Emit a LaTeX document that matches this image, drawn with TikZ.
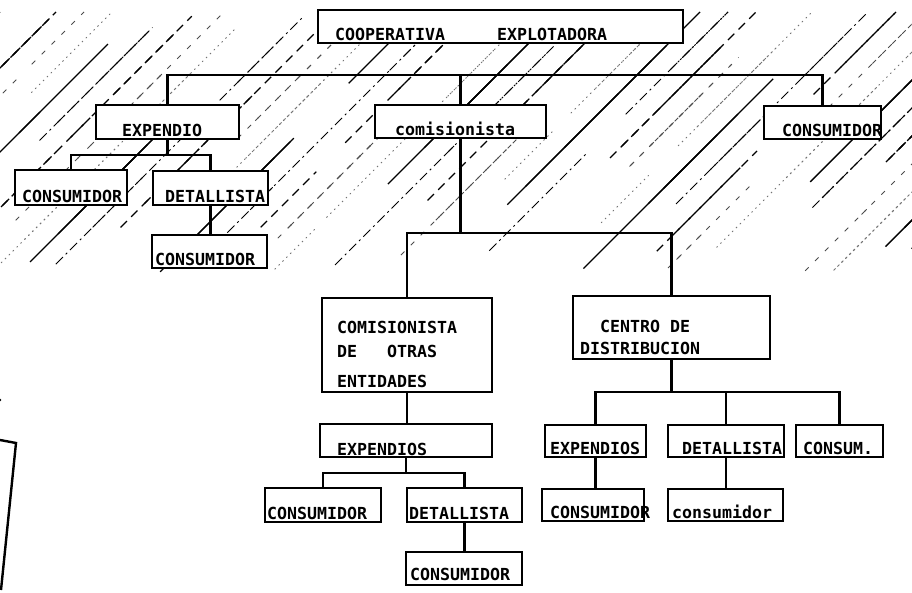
\documentclass[tikz,border=0pt]{standalone}
\usepackage{fontspec}
\setmonofont{DejaVu Sans Mono}
\tikzset{
  caja/.style={draw, line width=2.8pt, fill=white, inner sep=0pt, outer sep=0pt, anchor=north west},
  rotulo/.style={font=\ttfamily\bfseries\fontsize{16.6}{18}\selectfont, inner sep=0pt, anchor=base west},
  enlace/.style={line width=2.4pt},
  hatch0/.style={line width=1.4pt},
  hatch1/.style={line width=1.1pt, dash pattern=on 9pt off 6pt},
  hatch2/.style={line width=0.8pt, black!55, dash pattern=on 1.5pt off 4pt},
  hatch3/.style={line width=1pt, dash pattern=on 10pt off 4pt on 2pt off 4pt},
  hatch4/.style={line width=0.9pt, black!70, dash pattern=on 5pt off 9pt}
}
\begin{document}
\begin{tikzpicture}[x=1pt, y=-1pt]
  \useasboundingbox (0,0) rectangle (912,593);
  % rayado de fondo
  \pgfmathsetseed{11}
  \begin{scope}
    \clip (0,12) rectangle (912,274);
    \foreach \i in {0,...,44} {
      \pgfmathtruncatemacro\k{mod(\i*3,5)}
      \foreach \j in {1,2,3,4} {
        \pgfmathsetmacro\ta{rnd*0.85}
        \pgfmathsetmacro\tb{min(1,\ta+0.15+0.4*rnd)}
        \draw[hatch\k] (\i*28-260+260*\ta,272-260*\ta) -- (\i*28-260+260*\tb,272-260*\tb);
      }
    }
  \end{scope}
  % trozo de caja a la izquierda
  \draw[line width=2.4pt] (0,440) -- (16,443) -- (1,590);
  \fill (0,400) circle (1.3pt);

  % cajas
  \node[caja, minimum width=365pt, minimum height=33pt] (coop) at (318,10) {};
  \node[caja, minimum width=143pt, minimum height=34pt] (expd) at (96,105) {};
  \node[caja, minimum width=171pt, minimum height=33pt] (comi) at (375,105) {};
  \node[caja, minimum width=117pt, minimum height=33pt] (consR) at (764,106) {};
  \node[caja, minimum width=112pt, minimum height=35pt] (consL) at (15,170) {};
  \node[caja, minimum width=115pt, minimum height=34pt] (detA) at (153,171) {};
  \node[caja, minimum width=115pt, minimum height=33pt] (consA) at (152,235) {};
  \node[caja, minimum width=170pt, minimum height=94pt] (otras) at (322,298) {};
  \node[caja, minimum width=197pt, minimum height=63pt] (centro) at (573,296) {};
  \node[caja, minimum width=172pt, minimum height=33pt] (expB) at (320,424) {};
  \node[caja, minimum width=116pt, minimum height=34pt] (consB) at (265,488) {};
  \node[caja, minimum width=115pt, minimum height=34pt] (detB) at (407,488) {};
  \node[caja, minimum width=116pt, minimum height=33pt] (consB2) at (406,552) {};
  \node[caja, minimum width=101pt, minimum height=32pt] (expC) at (545,425) {};
  \node[caja, minimum width=116pt, minimum height=32pt] (detC) at (668,425) {};
  \node[caja, minimum width=87pt, minimum height=32pt] (consC) at (796,425) {};
  \node[caja, minimum width=102pt, minimum height=32pt] (consC1) at (542,489) {};
  \node[caja, minimum width=115pt, minimum height=32pt] (consC2) at (668,489) {};

  % rotulos
  \node[rotulo] (tcoop) at (335,41) {COOPERATIVA\hspace{52pt}EXPLOTADORA};
  \node[rotulo] (texpd) at (122,137) {EXPENDIO};
  \node[rotulo] (tcomi) at (395,136) {comisionista};
  \node[rotulo] (tconsR) at (782,137) {CONSUMIDOR};
  \node[rotulo] (tconsL) at (22,203) {CONSUMIDOR};
  \node[rotulo] (tdetA) at (165,203) {DETALLISTA};
  \node[rotulo] (tconsA) at (155,266) {CONSUMIDOR};
  \node[rotulo] (totras1) at (337,333) {COMISIONISTA};
  \node[rotulo] (totras2) at (337,357) {DE\hspace{30pt}OTRAS};
  \node[rotulo] (totras3) at (337,387) {ENTIDADES};
  \node[rotulo] (tcentro1) at (600,332) {CENTRO DE};
  \node[rotulo] (tcentro2) at (580,354) {DISTRIBUCION};
  \node[rotulo] (texpB) at (337,455) {EXPENDIOS};
  \node[rotulo] (tconsB) at (267,519) {CONSUMIDOR};
  \node[rotulo] (tdetB) at (409,519) {DETALLISTA};
  \node[rotulo] (tconsB2) at (410,580) {CONSUMIDOR};
  \node[rotulo] (texpC) at (550,454) {EXPENDIOS};
  \node[rotulo] (tdetC) at (682,454) {DETALLISTA};
  \node[rotulo] (tconsC) at (803,454) {CONSUM.};
  \node[rotulo] (tconsC1) at (550,518) {CONSUMIDOR};
  \node[rotulo] (tconsC2) at (672,518) {consumidor};

  % lineas de union
  \coordinate (b1) at (0,75);
  \coordinate (b2) at (0,155);
  \coordinate (b3) at (0,233);
  \coordinate (b4) at (0,473);
  \coordinate (b5) at (0,392);
  \draw[enlace] (expd.north) -- (expd.north |- b1) -- (consR.north |- b1) -- (consR.north);
  \draw[enlace] (comi.north) -- (comi.north |- b1);
  \draw[enlace] (expd.south) -- (expd.south |- b2);
  \draw[enlace] (consL.north) -- (consL.north |- b2) -- (detA.north |- b2) -- (detA.north);
  \draw[enlace] (detA.south) -- (detA.south |- consA.north);
  \draw[enlace] (comi.south) -- (comi.south |- b3);
  \draw[enlace] (otras.north) -- (otras.north |- b3) -- (centro.north |- b3) -- (centro.north);
  \draw[enlace] (otras.south) -- (otras.south |- expB.north);
  \draw[enlace] (expB.south) -- (expB.south |- b4);
  \draw[enlace] (consB.north) -- (consB.north |- b4) -- (detB.north |- b4) -- (detB.north);
  \draw[enlace] (detB.south) -- (detB.south |- consB2.north);
  \draw[enlace] (centro.south) -- (centro.south |- b5);
  \draw[enlace] (expC.north) -- (expC.north |- b5) -- (consC.north |- b5) -- (consC.north);
  \draw[enlace] (detC.north) -- (detC.north |- b5);
  \draw[enlace] (expC.south) -- (expC.south |- consC1.north);
  \draw[enlace] (detC.south) -- (detC.south |- consC2.north);
\end{tikzpicture}
\end{document}
